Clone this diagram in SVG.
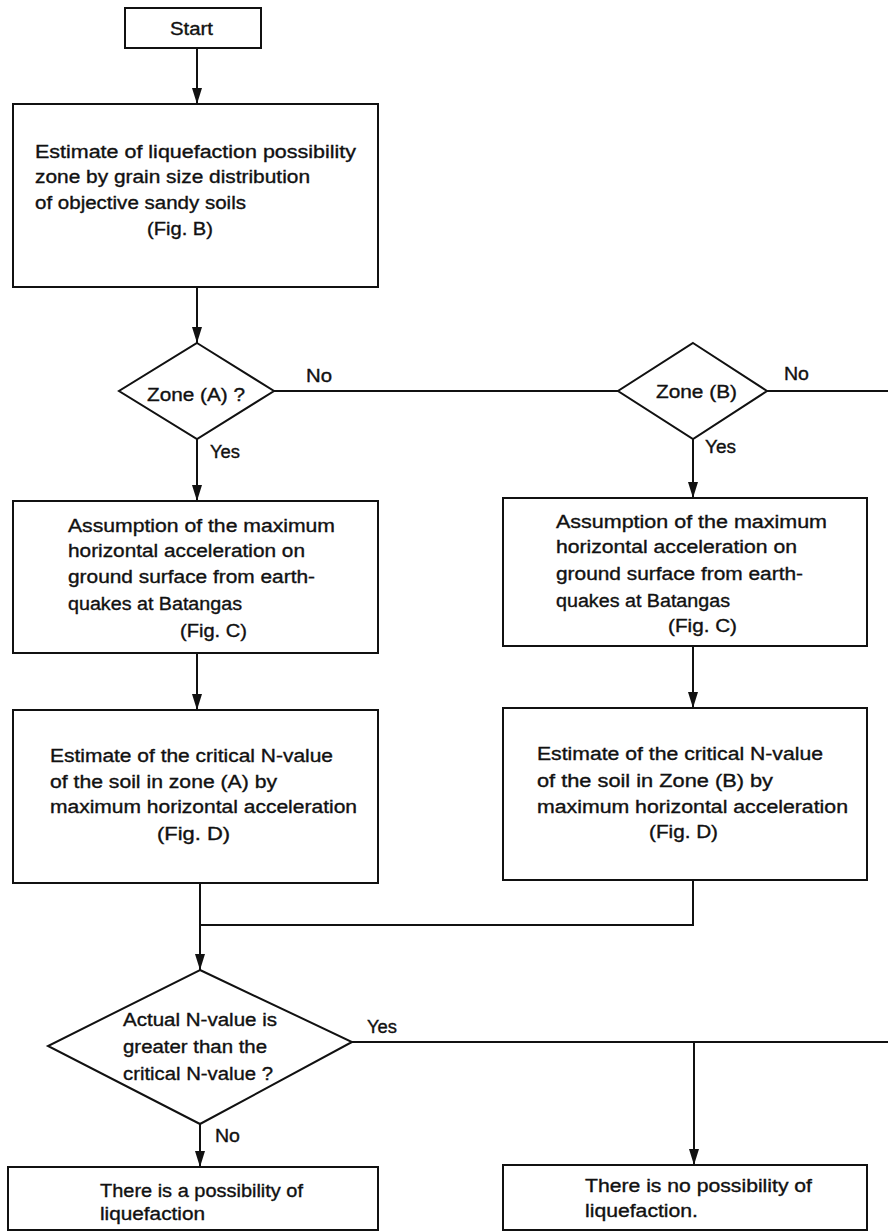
<svg xmlns="http://www.w3.org/2000/svg" width="888" height="1232" viewBox="0 0 888 1232">
<defs>
<marker id="ah" markerWidth="16" markerHeight="10" refX="16" refY="5" orient="auto" markerUnits="userSpaceOnUse" viewBox="0 0 16 10">
<path d="M0,0 L16,5 L0,10 Z" fill="#111"/>
</marker>
<style>
.box{fill:#fff;stroke:#111;stroke-width:2}
.ln{fill:none;stroke:#111;stroke-width:2}
.t{font-family:"Liberation Sans",Arial,sans-serif;font-size:18px;fill:#111;stroke:#111;stroke-width:0.35}
</style>
</defs>
<rect width="888" height="1232" fill="#fff"/>

<g id="connectors">
<line class="ln" x1="197" y1="48" x2="197" y2="104" marker-end="url(#ah)"/>
<line class="ln" x1="197" y1="287" x2="197" y2="343" marker-end="url(#ah)"/>
<polyline class="ln" points="274,391 618,391"/>
<polyline class="ln" points="767,391 888,391"/>
<line class="ln" x1="197" y1="439" x2="197" y2="501" marker-end="url(#ah)"/>
<line class="ln" x1="693" y1="439" x2="693" y2="498" marker-end="url(#ah)"/>
<line class="ln" x1="197" y1="653" x2="197" y2="710" marker-end="url(#ah)"/>
<line class="ln" x1="693" y1="646" x2="693" y2="708" marker-end="url(#ah)"/>
<polyline class="ln" points="693,880 693,925 200,925"/>
<line class="ln" x1="200" y1="883" x2="200" y2="970" marker-end="url(#ah)"/>
<polyline class="ln" points="352,1042 888,1042"/>
<line class="ln" x1="694" y1="1042" x2="694" y2="1165" marker-end="url(#ah)"/>
<line class="ln" x1="200" y1="1124" x2="200" y2="1167" marker-end="url(#ah)"/>
<text class="t" x="306" y="382" textLength="26" lengthAdjust="spacingAndGlyphs">No</text>
<text class="t" x="784" y="380" textLength="25" lengthAdjust="spacingAndGlyphs">No</text>
<text class="t" x="210" y="458" textLength="30" lengthAdjust="spacingAndGlyphs">Yes</text>
<text class="t" x="705" y="453" textLength="31" lengthAdjust="spacingAndGlyphs">Yes</text>
<text class="t" x="367" y="1033" textLength="30" lengthAdjust="spacingAndGlyphs">Yes</text>
<text class="t" x="215" y="1142" textLength="25" lengthAdjust="spacingAndGlyphs">No</text>
</g>

<g id="start">
<rect class="box" x="125" y="8" width="136" height="40"/>
<text class="t" x="170" y="35" textLength="43" lengthAdjust="spacingAndGlyphs">Start</text>
</g>

<g id="estimate-zone">
<rect class="box" x="13" y="104" width="365" height="183"/>
<text class="t" x="35" y="158" textLength="321" lengthAdjust="spacingAndGlyphs">Estimate of liquefaction possibility</text>
<text class="t" x="35" y="183" textLength="275" lengthAdjust="spacingAndGlyphs">zone by grain size distribution</text>
<text class="t" x="35" y="209" textLength="211" lengthAdjust="spacingAndGlyphs">of objective sandy soils</text>
<text class="t" x="147" y="235" textLength="66" lengthAdjust="spacingAndGlyphs">(Fig. B)</text>
</g>

<g id="zone-a">
<polygon class="box" points="197,343 274,391 197,439 119,391"/>
<text class="t" x="147" y="401" textLength="98" lengthAdjust="spacingAndGlyphs">Zone (A) ?</text>
</g>

<g id="zone-b">
<polygon class="box" points="693,343 767,391 693,439 618,391"/>
<text class="t" x="656" y="398" textLength="81" lengthAdjust="spacingAndGlyphs">Zone (B)</text>
</g>

<g id="accel-a">
<rect class="box" x="13" y="501" width="365" height="152"/>
<text class="t" x="68" y="532" textLength="267" lengthAdjust="spacingAndGlyphs">Assumption of the maximum</text>
<text class="t" x="68" y="557" textLength="237" lengthAdjust="spacingAndGlyphs">horizontal acceleration on</text>
<text class="t" x="68" y="583" textLength="247" lengthAdjust="spacingAndGlyphs">ground surface from earth-</text>
<text class="t" x="68" y="610" textLength="174" lengthAdjust="spacingAndGlyphs">quakes at Batangas</text>
<text class="t" x="180" y="637" textLength="67" lengthAdjust="spacingAndGlyphs">(Fig. C)</text>
</g>

<g id="accel-b">
<rect class="box" x="503" y="498" width="364" height="148"/>
<text class="t" x="556" y="528" textLength="271" lengthAdjust="spacingAndGlyphs">Assumption of the maximum</text>
<text class="t" x="556" y="553" textLength="241" lengthAdjust="spacingAndGlyphs">horizontal acceleration on</text>
<text class="t" x="556" y="580" textLength="247" lengthAdjust="spacingAndGlyphs">ground surface from earth-</text>
<text class="t" x="556" y="607" textLength="174" lengthAdjust="spacingAndGlyphs">quakes at Batangas</text>
<text class="t" x="668" y="632" textLength="69" lengthAdjust="spacingAndGlyphs">(Fig. C)</text>
</g>

<g id="critical-a">
<rect class="box" x="13" y="710" width="365" height="173"/>
<text class="t" x="50" y="762" textLength="283" lengthAdjust="spacingAndGlyphs">Estimate of the critical N-value</text>
<text class="t" x="50" y="788" textLength="227" lengthAdjust="spacingAndGlyphs">of the soil in zone (A) by</text>
<text class="t" x="50" y="813" textLength="307" lengthAdjust="spacingAndGlyphs">maximum horizontal acceleration</text>
<text class="t" x="157" y="840" textLength="73" lengthAdjust="spacingAndGlyphs">(Fig. D)</text>
</g>

<g id="critical-b">
<rect class="box" x="503" y="708" width="364" height="172"/>
<text class="t" x="537" y="760" textLength="286" lengthAdjust="spacingAndGlyphs">Estimate of the critical N-value</text>
<text class="t" x="537" y="787" textLength="236" lengthAdjust="spacingAndGlyphs">of the soil in Zone (B) by</text>
<text class="t" x="537" y="813" textLength="311" lengthAdjust="spacingAndGlyphs">maximum horizontal acceleration</text>
<text class="t" x="649" y="838" textLength="69" lengthAdjust="spacingAndGlyphs">(Fig. D)</text>
</g>

<g id="compare">
<polygon class="box" points="200,970 352,1042 200,1124 48,1046"/>
<text class="t" x="123" y="1026" textLength="154" lengthAdjust="spacingAndGlyphs">Actual N-value is</text>
<text class="t" x="123" y="1053" textLength="144" lengthAdjust="spacingAndGlyphs">greater than the</text>
<text class="t" x="123" y="1080" textLength="150" lengthAdjust="spacingAndGlyphs">critical N-value ?</text>
</g>

<g id="possible">
<rect class="box" x="8" y="1167" width="370" height="63"/>
<text class="t" x="100" y="1197" textLength="203" lengthAdjust="spacingAndGlyphs">There is a possibility of</text>
<text class="t" x="100" y="1220" textLength="105" lengthAdjust="spacingAndGlyphs">liquefaction</text>
</g>

<g id="not-possible">
<rect class="box" x="503" y="1165" width="364" height="65"/>
<text class="t" x="585" y="1192" textLength="227" lengthAdjust="spacingAndGlyphs">There is no possibility of</text>
<text class="t" x="585" y="1217" textLength="113" lengthAdjust="spacingAndGlyphs">liquefaction.</text>
</g>
</svg>
